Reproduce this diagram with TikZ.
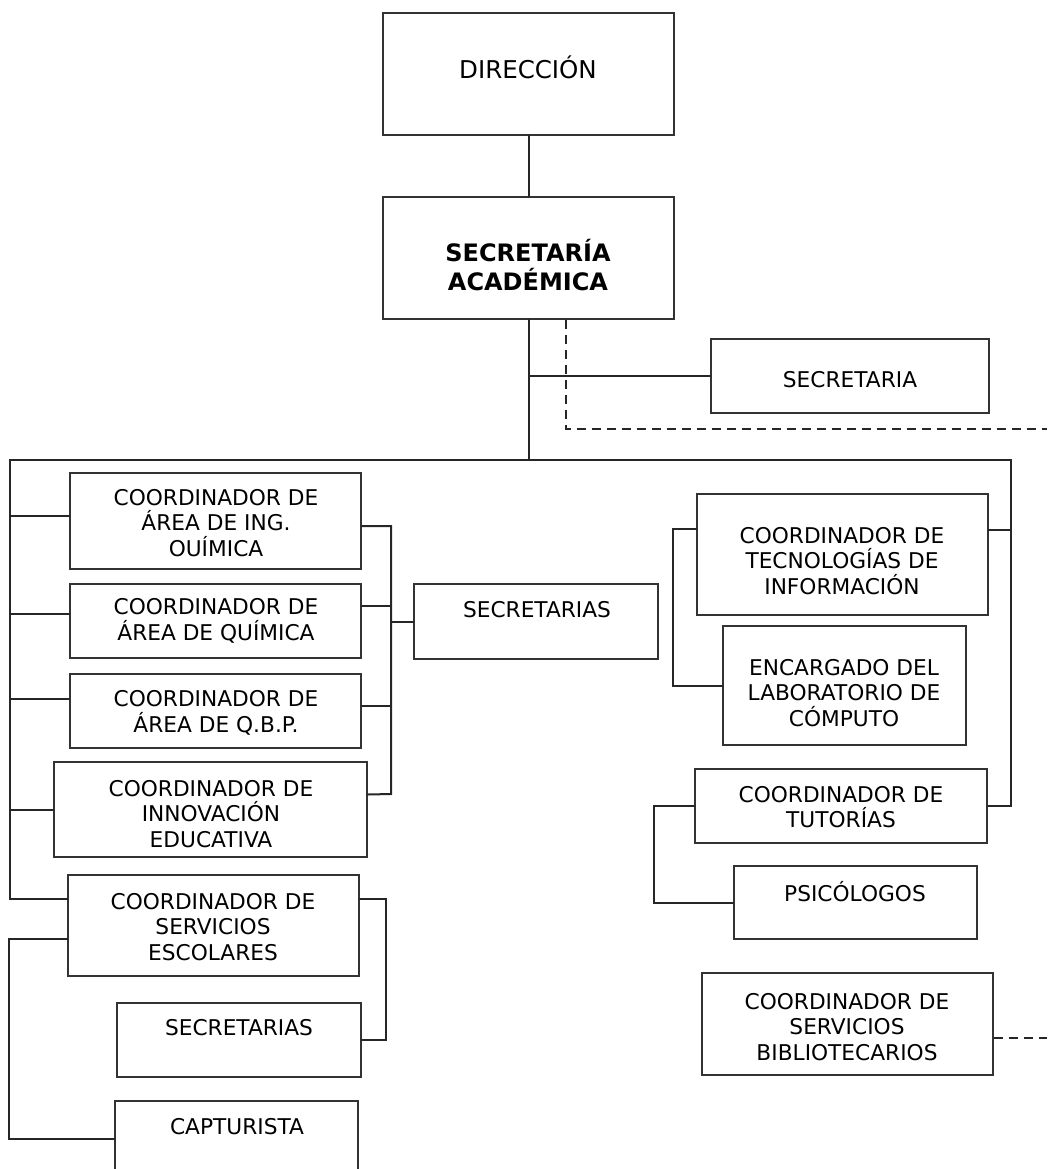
\documentclass[tikz,border=0pt]{standalone}
\usepackage{fontspec}
\setmainfont{DejaVu Sans}
\usetikzlibrary{calc,fit}
\tikzset{
  box/.style={draw=black!80, line width=2pt, inner sep=0pt},
  txt/.style={align=center, inner sep=0pt, font=\fontsize{21.7}{25.5}\selectfont},
  conn/.style={draw=black!85, line width=2pt, line cap=rect},
  dconn/.style={draw=black!85, line width=2pt, dash pattern=on 9pt off 6pt},
}
\newcommand\orgbox[5]{\node[box, fit={(#2,#3) (#4,#5)}] (#1) {};}
\begin{document}
\begin{tikzpicture}[x=1pt,y=-1pt]
\useasboundingbox (0,0) rectangle (1047,1169);
\clip (0,0) rectangle (1047,1169);
% boxes
\orgbox{dir}{383}{13}{674}{135}
\orgbox{sec}{383}{197}{674}{319}
\orgbox{secre}{711}{339}{989}{413}
\orgbox{iq}{70}{473}{361}{569}
\orgbox{qu}{70}{584}{361}{658}
\orgbox{qbp}{70}{674}{361}{748}
\orgbox{inn}{54}{762}{367}{857}
\orgbox{esc}{68}{875}{359}{976}
\orgbox{sectwo}{414}{584}{658}{659}
\orgbox{secthree}{117}{1003}{361}{1077}
\orgbox{cap}{115}{1101}{358}{1177}
\orgbox{ti}{697}{494}{988}{615}
\orgbox{lab}{723}{626}{966}{745}
\orgbox{tut}{695}{769}{987}{843}
\orgbox{psi}{734}{866}{977}{939}
\orgbox{bib}{702}{973}{993}{1075}
% texts
\node[txt, font=\fontsize{24.5}{29}\selectfont] (tdir) at (528,67) {DIRECCIÓN};
\node[txt, font=\fontsize{24}{29}\selectfont\bfseries] (tsec) at (528,265) {SECRETARÍA\\ACADÉMICA};
\node[txt] (tsecre) at (850,380) {SECRETARIA};
\node[txt] (tiq) at (216,523) {COORDINADOR DE\\ÁREA DE ING.\\OUÍMICA};
\node[txt] (tqu) at (216,621) {COORDINADOR DE\\ÁREA DE QUÍMICA};
\node[txt] (tqbp) at (216,713) {COORDINADOR DE\\ÁREA DE Q.B.P.};
\node[txt] (tinn) at (211,814) {COORDINADOR DE\\INNOVACIÓN\\EDUCATIVA};
\node[txt] (tesc) at (213,927) {COORDINADOR DE\\SERVICIOS\\ESCOLARES};
\node[txt] (tsectwo) at (537,610) {SECRETARIAS};
\node[txt] (tsecthree) at (239,1028) {SECRETARIAS};
\node[txt] (tcap) at (237,1127) {CAPTURISTA};
\node[txt] (tti) at (842,561) {COORDINADOR DE\\TECNOLOGÍAS DE\\INFORMACIÓN};
\node[txt] (tlab) at (844,693) {ENCARGADO DEL\\LABORATORIO DE\\CÓMPUTO};
\node[txt] (ttut) at (841,807) {COORDINADOR DE\\TUTORÍAS};
\node[txt] (tpsi) at (855,892) {PSICÓLOGOS};
\node[txt] (tbib) at (847,1027) {COORDINADOR DE\\SERVICIOS\\BIBLIOTECARIOS};
% free-end coordinates
\coordinate (busL) at (10,460);
\coordinate (busR) at (1011,460);
\coordinate (dashE) at (1047,429);
\coordinate (dashB) at (1047,1038);
\coordinate (brT) at (391,526);
\coordinate (brB) at (391,794);
% connectors
\draw[conn] (dir.south) -- (sec.north);
\draw[conn] (sec.south) -- (sec.south |- busL);
\draw[conn] (sec.south |- secre.west) -- (secre.west);
\draw[dconn] ($(sec.south)+(37,0)$) |- (dashE);
\draw[conn] (busL) -- (busR);
% left bus
\draw[conn] (busL) |- ($(esc.west)+(0,-27)$);
\draw[conn] ($(iq.west)+(0,-5)$) -- (busL |- {$(iq.west)+(0,-5)$});
\draw[conn] ($(qu.west)+(0,-7)$) -- (busL |- {$(qu.west)+(0,-7)$});
\draw[conn] ($(qbp.west)+(0,-12)$) -- (busL |- {$(qbp.west)+(0,-12)$});
\draw[conn] (inn.west) -- (busL |- inn.west);
% right bracket of left group
\draw[conn] ($(iq.east)+(0,5)$) -- (brT) -- (brB) -- ($(inn.east)+(0,-15)$);
\draw[conn] ($(qu.east)+(0,-15)$) -- (brT |- {$(qu.east)+(0,-15)$});
\draw[conn] ($(qbp.east)+(0,-5)$) -- (brT |- {$(qbp.east)+(0,-5)$});
\draw[conn] (brT |- sectwo.west) -- (sectwo.west);
% escolares
\draw[conn] ($(esc.east)+(0,-27)$) -| ($(secthree.east)+(24,0)$) -- (secthree.east);
\draw[conn] ($(esc.west)+(0,13)$) -| ($(cap.west)+(-105,0)$) -- (cap.west);
% right bus
\draw[conn] (busL -| busR) |- (tut.east);
\draw[conn] ($(ti.east)+(0,-25)$) -- (busR |- {$(ti.east)+(0,-25)$});
\draw[conn] ($(ti.west)+(0,-26)$) -| ($(lab.west)+(-49,0)$) -- (lab.west);
\draw[conn] (tut.west) -| ($(psi.west)+(-79,0)$) -- (psi.west);
\draw[dconn] ($(bib.east)+(0,14)$) -- (dashB);
\end{tikzpicture}
\end{document}
